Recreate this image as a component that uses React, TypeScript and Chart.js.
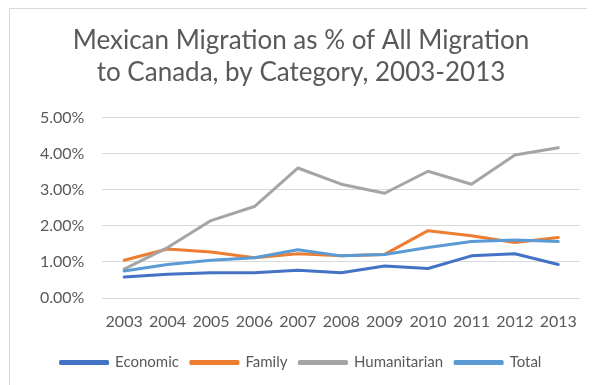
import React, { useEffect, useRef } from "react";
import { Chart, registerables } from "chart.js";

Chart.register(...registerables);

const years = ["2003", "2004", "2005", "2006", "2007", "2008", "2009", "2010", "2011", "2012", "2013"];
const economic = [0.58, 0.66, 0.7, 0.7, 0.77, 0.7, 0.89, 0.82, 1.17, 1.23, 0.93];
const family = [1.05, 1.36, 1.28, 1.12, 1.23, 1.17, 1.21, 1.87, 1.73, 1.54, 1.68];
const humanitarian = [0.8, 1.4, 2.15, 2.54, 3.61, 3.16, 2.91, 3.52, 3.16, 3.97, 4.17];
const total = [0.75, 0.93, 1.05, 1.12, 1.34, 1.17, 1.21, 1.4, 1.57, 1.61, 1.57];
const titleLines = ["Mexican Migration as % of All Migration", "to Canada, by Category, 2003-2013"];

const FONT = "Lato";
const TEXT = "#595959";
const GRID = "#d9d9d9";

export default function App() {
  const ref = useRef<HTMLCanvasElement>(null);
  useEffect(() => {
    if (!ref.current) return;
    const mk = (label: string, data: number[], color: string, order: number) => ({
      label,
      data,
      borderColor: color,
      backgroundColor: color,
      borderWidth: 3,
      pointRadius: 0,
      tension: 0,
      borderJoinStyle: "round" as const,
      borderCapStyle: "round" as const,
      order,
    });
    const chart = new Chart(ref.current, {
      type: "line",
      data: {
        labels: years,
        datasets: [
          mk("Economic", economic, "#4472C4", 3),
          mk("Family", family, "#ED7D31", 2),
          mk("Humanitarian", humanitarian, "#A5A5A5", 1),
          mk("Total", total, "#5B9BD5", 0),
        ],
      },
      options: {
        animation: false,
        responsive: false,
        layout: { padding: { left: 12, right: 15, top: 0, bottom: 5 } },
        plugins: {
          title: {
            display: true,
            text: titleLines,
            color: TEXT,
            font: { family: FONT, size: 26, weight: "normal", lineHeight: 1.23 },
            padding: { top: 16, bottom: 29 },
          },
          legend: {
            position: "bottom",
            labels: {
              color: TEXT,
              font: { family: FONT, size: 15 },
              boxWidth: 47,
              boxHeight: 2,
              padding: 12,
              sort: (a: any, b: any) => a.datasetIndex - b.datasetIndex,
            },
          },
          tooltip: { enabled: false },
        },
        scales: {
          x: {
            offset: true,
            grid: { display: false, drawTicks: false },
            border: { display: false },
            ticks: { color: TEXT, font: { family: FONT, size: 16 }, padding: 14, maxRotation: 0 },
            afterFit: (s: any) => {
              s.height = 45;
            },
          },
          y: {
            min: 0,
            max: 5,
            grid: { color: GRID, lineWidth: 1, drawTicks: false },
            border: { display: false },
            ticks: {
              stepSize: 1,
              color: TEXT,
              font: { family: FONT, size: 16 },
              padding: 18,
              callback: (v: any) => Number(v).toFixed(2) + "%",
            },
          },
        },
      },
    });
    return () => chart.destroy();
  }, []);
  return (
    <div
      style={{
        marginLeft: 1,
        width: 586,
        height: 377,
        borderLeft: "1px solid #d9d9d9",
        borderTop: "1px solid #d9d9d9",
        overflow: "hidden",
      }}
    >
      <canvas ref={ref} width={585} height={376} style={{ display: "block" }} />
    </div>
  );
}
